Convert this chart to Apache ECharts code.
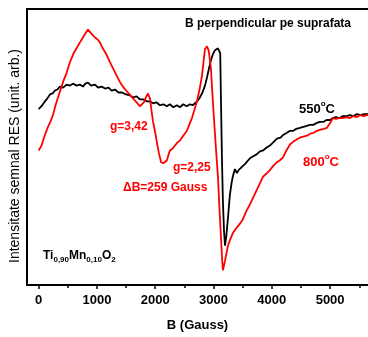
<!DOCTYPE html>
<html>
<head>
<meta charset="utf-8">
<script src="https://cdn.jsdelivr.net/npm/echarts@6/dist/echarts.min.js"></script>
<style>html,body{margin:0;padding:0;background:#fff}#c{width:368px;height:337px}</style>
</head>
<body>
<div id="c"></div>
<script>
// B field (Gauss) and signal (arb. units) for 550°C sample
var blackField = [0,50,108,150,194,240,280,320,365,420,480,537,590,650,708,760,800,846,900,966,1020,1080,1137,1200,1250,1310,1370,1430,1500,1566,1620,1680,1737,1800,1850,1909,1960,2020,2080,2140,2200,2252,2310,2370,2424,2480,2540,2595,2640,2681,2720,2767,2810,2853,2887,2920,2956,2990,3024,3050,3076,3100,3115,3127,3144,3161,3180,3197,3220,3247,3281,3310,3333,3367,3401,3430,3453,3500,3539,3580,3624,3680,3740,3796,3850,3910,3967,4020,4088,4150,4200,4260,4311,4370,4420,4482,4540,4600,4653,4710,4770,4825,4880,4940,5000,5048,5100,5160,5220,5280,5340,5400,5460,5520,5580,5631,5700];
var blackSignal = [179,182,187,190,194,195,198,199,202,201,204,203,205,203,204,202,205,206,203,204,201,202,200,201,198,199,196,196,194,193,191,192,189,189,187,187,185,186,183,184,182,184,181,183,181,184,182,184,183,185,187,191,196,203,211,220,229,235,239,240,241,240,236,190,130,85,55,40,50,68,92,104,111,118,114,117,118,121,123,126,129,131,133,136,137,140,142,145,149,150,153,155,157,157,159,160,161,162,163,163,165,166,166,168,168,170,171,170,172,172,173,172,174,173,174,174,175];

// 800°C sample
var redField = [0,50,108,160,200,245,300,365,420,480,537,600,650,708,760,800,846,880,920,966,1010,1051,1100,1160,1223,1280,1340,1400,1446,1500,1560,1617,1680,1737,1770,1806,1840,1875,1909,1935,1960,2000,2029,2060,2080,2100,2115,2140,2166,2201,2230,2252,2300,2338,2380,2424,2480,2544,2590,2630,2670,2715,2760,2801,2830,2853,2887,2910,2921,2956,2980,3007,3040,3076,3100,3127,3145,3161,3180,3195,3220,3247,3290,3333,3380,3420,3460,3504,3560,3624,3680,3744,3800,3847,3900,3967,4020,4088,4140,4191,4250,4311,4370,4420,4482,4540,4602,4660,4720,4770,4825,4890,4945,5000,5048,5100,5160,5220,5280,5340,5400,5460,5520,5580,5631,5700];
var redSignal = [137,142,153,161,166,173,185,197,207,216,227,236,241,247,252,256,260,258,255,252,250,247,241,235,227,220,213,206,202,198,194,190,186,182,183,186,191,195,190,178,167,155,145,135,130,125,123,124,125,127,133,137,139,142,145,147,152,157,164,170,178,187,199,213,228,240,243,240,237,220,195,170,140,110,80,50,28,15,20,24,32,40,47,53,57,60,63,67,75,82,89,97,104,110,113,117,121,125,127,130,137,143,146,148,150,151,152,154,155,157,158,159,160,165,170,169,170,170,171,170,172,171,173,172,173,174];

var xLabelValues = [0,1000,2000,3000,4000,5000];
var xMinorValues = [500,1500,2500,3500,4500,5500];

function pairs(a, b){ var r=[]; for (var i=0;i<a.length;i++) r.push([a[i], b[i]]); return r; }

var FF = '"Liberation Sans", Arial, sans-serif';
var XMIN = -200, XMAX = 5650;
var chart = echarts.init(document.getElementById('c'), null, {renderer:'canvas'});
chart.setOption({
  animation: false,
  backgroundColor: '#fff',
  grid: {left: 27, top: 9, bottom: 47, right: 0},
  xAxis: [{
    type: 'value', min: XMIN, max: XMAX,
    axisLine: {show: true, onZero: false, lineStyle: {color: '#000', width: 2}},
    axisTick: {show: true, length: 4, customValues: xLabelValues, lineStyle: {color: '#000', width: 1.5}},
    axisLabel: {customValues: xLabelValues, color: '#000', fontWeight: 'bold', fontSize: 13, fontFamily: FF, margin: 9,
      formatter: function(v){ return String(v); }},
    splitLine: {show: false},
    name: 'B (Gauss)', nameLocation: 'middle', nameGap: 34,
    nameTextStyle: {color: '#000', fontWeight: 'bold', fontSize: 13, fontFamily: FF}
  }, {
    type: 'value', min: XMIN, max: XMAX, position: 'bottom',
    axisLine: {show: false},
    axisTick: {show: true, length: 3, customValues: xMinorValues, lineStyle: {color: '#000', width: 1.5}},
    axisLabel: {show: false},
    splitLine: {show: false}
  }, {
    type: 'value', min: XMIN, max: XMAX, position: 'top',
    axisLine: {show: true, onZero: false, lineStyle: {color: '#000', width: 2}},
    axisTick: {show: false}, axisLabel: {show: false}, splitLine: {show: false}
  }],
  yAxis: {
    type: 'value', min: 0, max: 281,
    axisLine: {show: true, onZero: false, lineStyle: {color: '#000', width: 2}},
    axisTick: {show: false}, axisLabel: {show: false}, splitLine: {show: false}
  },
  series: [
    {type: 'line', data: pairs(blackField, blackSignal), showSymbol: false, lineStyle: {color: '#000', width: 1.8}, z: 2},
    {type: 'line', data: pairs(redField, redSignal), showSymbol: false, lineStyle: {color: '#ff0000', width: 1.8}, z: 3}
  ],
  graphic: [
    {type: 'text', x: 15, y: 156, rotation: Math.PI / 2,
      style: {text: 'Intensitate semnal RES (unit. arb.)', fill: '#000', font: '14px ' + FF, textAlign: 'center', textVerticalAlign: 'middle'}},
    {type: 'text', left: 185, top: 18, style: {text: 'B perpendicular pe suprafata', fill: '#000', font: 'bold 12px ' + FF}},
    {type: 'text', left: 299, top: 100, style: {text: '{a|550}{s|o}{a|C}', fill: '#000',
      rich: {a: {fontSize: 13, fontWeight: 'bold', fontFamily: FF, lineHeight: 16, verticalAlign: 'bottom'},
             s: {fontSize: 8, fontWeight: 'bold', fontFamily: FF, lineHeight: 16, verticalAlign: 'top'}}}},
    {type: 'text', left: 303, top: 153, style: {text: '{a|800}{s|o}{a|C}', fill: '#ff0000',
      rich: {a: {fontSize: 13, fontWeight: 'bold', fontFamily: FF, lineHeight: 16, verticalAlign: 'bottom'},
             s: {fontSize: 8, fontWeight: 'bold', fontFamily: FF, lineHeight: 16, verticalAlign: 'top'}}}},
    {type: 'text', left: 110, top: 121, style: {text: 'g=3,42', fill: '#ff0000', font: 'bold 12px ' + FF}},
    {type: 'text', left: 173, top: 162, style: {text: 'g=2,25', fill: '#ff0000', font: 'bold 12px ' + FF}},
    {type: 'text', left: 123, top: 182, style: {text: '\u0394B=259 Gauss', fill: '#ff0000', font: 'bold 12px ' + FF}},
    {type: 'text', left: 43, top: 250, style: {text: '{a|Ti}{b|0,90}{a|Mn}{b|0,10}{a|O}{b|2}', fill: '#000',
      rich: {a: {fontSize: 12, fontWeight: 'bold', fontFamily: FF, lineHeight: 15, verticalAlign: 'middle'},
             b: {fontSize: 8, fontWeight: 'bold', fontFamily: FF, lineHeight: 15, verticalAlign: 'bottom'}}}}
  ]
});
</script>
</body>
</html>
